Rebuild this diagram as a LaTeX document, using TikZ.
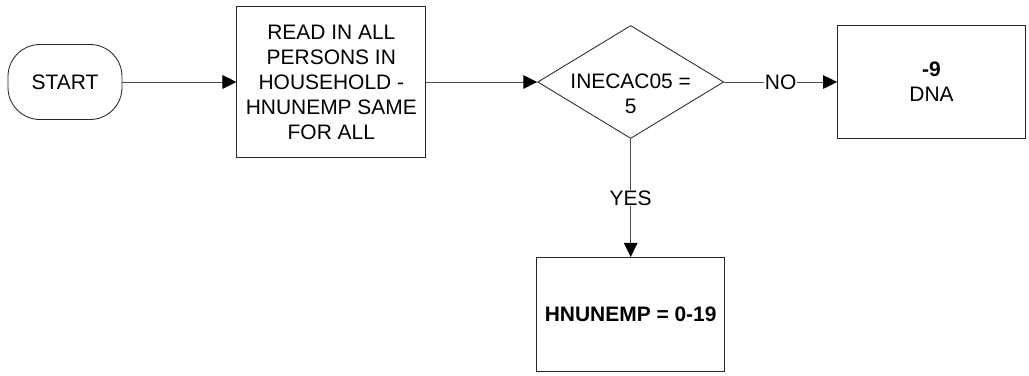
\documentclass[tikz,border=0pt]{standalone}
\usepackage{fontspec}
\setmainfont{Liberation Sans}
\usepackage{tikz}
\usetikzlibrary{shapes,arrows.meta,positioning}
\newcommand{\flowfont}{\fontsize{14.9}{17.8}\selectfont}
\tikzstyle{terminal} = [rectangle, rounded corners=0.8cm, draw=black!85, line width=0.6pt,
    minimum width=2.85cm, minimum height=1.875cm, font=\flowfont]
\tikzstyle{block} = [rectangle, draw=black!85, line width=0.6pt, align=center,
    minimum width=4.725cm, minimum height=3.775cm, font=\flowfont]
\tikzstyle{decision} = [diamond, draw=black!85, line width=0.6pt, inner sep=0pt,
    minimum width=4.65cm, minimum height=2.825cm]
\tikzstyle{result} = [rectangle, draw=black!85, line width=0.6pt, align=center,
    minimum width=4.7cm, minimum height=2.84cm, font=\flowfont]
\tikzstyle{arrow} = [-{Triangle[length=3.5mm, width=3.4mm, color=black]}, line width=0.7pt, black!70]
\tikzstyle{tag} = [fill=white, inner sep=0.5pt, text=black, font=\flowfont]

\begin{document}
\begin{tikzpicture}
\useasboundingbox (0,0) rectangle (25.725,-9.375);
\node[terminal] (start) at (1.625,-2.05) {START};
\node[block, right=2.85cm of start] (readin) {READ IN ALL\\PERSONS IN\\HOUSEHOLD -\\HNUNEMP SAME\\FOR ALL};
\node[decision, right=2.775cm of readin,
    label={[font=\flowfont, align=center, yshift=-0.3cm]center:INECAC05 =\\5}] (inecac) {};
\node[result, right=2.825cm of inecac] (dna) {\textbf{-9}\\DNA};
\node[result, below=2.95cm of inecac] (hnunemp) {\textbf{HNUNEMP = 0-19}};
\draw[arrow] (start) -- (readin);
\draw[arrow] (readin) -- (inecac);
\draw[arrow] (inecac) -- node[tag] {NO} (dna);
\draw[arrow] (inecac) -- node[tag] {YES} (hnunemp);
\end{tikzpicture}
\end{document}
